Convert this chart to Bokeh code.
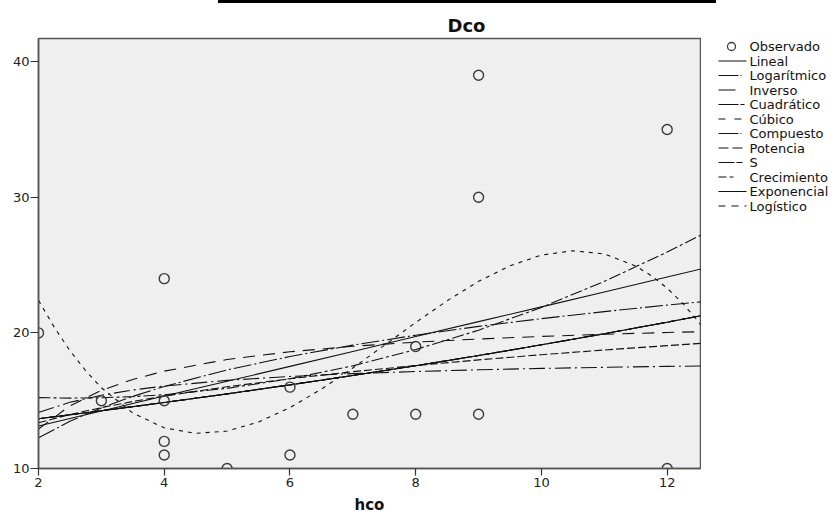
from bokeh.plotting import figure
from bokeh.layouts import row, column
from bokeh.models import Range1d, FixedTicker, Title, Div
from bokeh.core.properties import value
from bokeh.embed import file_html
from bokeh.resources import INLINE

# ---------------- data ----------------
title_text = "Dco"
x_title = "hco"
x_ticks = [2, 4, 6, 8, 10, 12]
y_ticks = [10, 20, 30, 40]

# observed points
hco = [2, 3, 4, 4, 4, 4, 5, 6, 6, 7, 8, 8, 9, 9, 9, 12, 12]
dco = [20, 15, 24, 15, 12, 11, 10, 16, 11, 14, 19, 14, 39, 30, 14, 35, 10]

# fitted curves
fit_x = [2, 2.5, 3, 3.5, 4, 5, 6, 7, 8, 9, 10, 11, 12, 12.54]
lineal_y = [13.14, 13.69, 14.24, 14.79, 15.34, 16.43, 17.53, 18.63, 19.73, 20.83, 21.92, 23.02, 24.12, 24.71]
log_y = [12.26, 13.48, 14.47, 15.32, 16.05, 17.27, 18.26, 19.10, 19.83, 20.48, 21.05, 21.57, 22.05, 22.29]
inv_y = [12.91, 14.62, 15.76, 16.57, 17.18, 18.04, 18.61, 19.01, 19.32, 19.55, 19.74, 19.90, 20.03, 20.09]
quad_y = [15.23, 15.19, 15.22, 15.30, 15.44, 15.91, 16.62, 17.57, 18.77, 20.20, 21.88, 23.80, 25.96, 27.23]
exp_y = [13.67, 13.96, 14.26, 14.56, 14.87, 15.50, 16.17, 16.86, 17.58, 18.33, 19.12, 19.94, 20.79, 21.27]
pow_y = [13.38, 13.98, 14.49, 14.94, 15.34, 16.03, 16.62, 17.14, 17.59, 18.01, 18.39, 18.74, 19.06, 19.23]
s_y = [14.13, 14.88, 15.40, 15.79, 16.08, 16.50, 16.79, 17.00, 17.15, 17.28, 17.38, 17.46, 17.53, 17.56]

cubic_x = [2, 2.25, 2.5, 2.75, 3, 3.5, 4, 4.5, 5, 5.5, 6, 6.5, 7, 7.5, 8, 8.5, 9,
           9.5, 10, 10.5, 11, 11.5, 11.75, 12, 12.25, 12.5, 12.54]
cubic_y = [22.40, 20.42, 18.69, 17.21, 15.96, 14.09, 13.00, 12.59, 12.76, 13.43, 14.49,
           15.85, 17.41, 19.08, 20.77, 22.37, 23.80, 24.95, 25.74, 26.06, 25.82, 24.93,
           24.21, 23.30, 22.17, 20.81, 20.58]

observed_name = "Observado"
series_names = ["Lineal", "Logarítmico", "Inverso", "Cuadrático", "Cúbico", "Compuesto",
                "Potencia", "S", "Crecimiento", "Exponencial", "Logístico"]

# ---------------- styles ----------------
FONT = "DejaVu Sans"
INK = "#111111"
series = [
    (fit_x, lineal_y, "solid"),
    (fit_x, log_y, "18 3 2 3"),
    (fit_x, inv_y, "12 8"),
    (fit_x, quad_y, "12 3 3 3"),
    (cubic_x, cubic_y, "4 5"),
    (fit_x, exp_y, "18 3 2 3"),
    (fit_x, pow_y, "8 3"),
    (fit_x, s_y, "16 4 2 4"),
    (fit_x, exp_y, "6 3"),
    (fit_x, exp_y, "solid"),
    (fit_x, exp_y, "6 5"),
]
legend_dashes = ["solid", "20 2 1 20", "3 0 14 30", "20 2 4 20", "7 9", "20 2 1 20",
                 "10 4", "16 2 6 20", "8 3 4 20", "solid", "7 6"]

TOP, BOTTOM, FRAME_H = 35, 48, 430

# ---------------- main chart ----------------
p = figure(width=701, height=TOP + FRAME_H + BOTTOM,
           x_range=Range1d(2, 12.53), y_range=Range1d(10, 41.71),
           output_backend="svg", toolbar_location=None,
           min_border_left=38, min_border_right=1, min_border_top=TOP, min_border_bottom=BOTTOM,
           background_fill_color="#efefef", border_fill_color="white",
           outline_line_color="#555555", outline_line_width=1.5)
p.grid.visible = False

for xs, ys, dash in series:
    p.line(xs, ys, line_color=INK, line_width=1.1, line_dash=dash)
p.scatter(hco, dco, marker="circle", size=10, fill_alpha=0,
          line_color="#3a3a3a", line_width=1.4)

for ax in (p.xaxis[0], p.yaxis[0]):
    ax.axis_line_color = "#555555"
    ax.axis_line_width = 1.5
    ax.major_tick_line_color = "#333333"
    ax.major_tick_line_width = 1.2
    ax.major_tick_in = 0
    ax.minor_tick_line_color = None
    ax.major_label_text_font = FONT
    ax.major_label_text_font_size = "13px"
    ax.major_label_text_color = "#222222"

p.xaxis.ticker = FixedTicker(ticks=x_ticks)
p.yaxis.ticker = FixedTicker(ticks=y_ticks)
p.xaxis.major_tick_out = 7
p.yaxis.major_tick_out = 8
p.xaxis.major_label_standoff = 2
p.yaxis.major_label_standoff = 1
p.xaxis.axis_label = x_title
p.xaxis.axis_label_text_font = FONT
p.xaxis.axis_label_text_font_style = "bold"
p.xaxis.axis_label_text_font_size = "15px"
p.xaxis.axis_label_text_color = INK
p.xaxis.axis_label_standoff = 6

p.title = Title(text=title_text, align="left", offset=409, standoff=5,
                text_font=FONT, text_font_style="bold", text_font_size="18px",
                text_color=INK)

# ---------------- legend panel ----------------
frame_top_px = 3 + TOP
lg = figure(width=134, height=TOP + FRAME_H + BOTTOM,
            x_range=Range1d(0, 134), y_range=Range1d(frame_top_px + FRAME_H, frame_top_px),
            output_backend="svg", toolbar_location=None,
            min_border_left=0, min_border_right=0, min_border_top=TOP, min_border_bottom=BOTTOM,
            outline_line_color=None, border_fill_color="white",
            background_fill_color="white")
lg.axis.visible = False
lg.grid.visible = False

ROW0, ROWH = 46, 14.5
rows_y = [ROW0 + ROWH * i for i in range(len(series_names) + 1)]
lg.scatter([30], [rows_y[0]], marker="circle", size=8, fill_alpha=0,
           line_color="#3a3a3a", line_width=1.3)
for i, dash in enumerate(legend_dashes):
    y = rows_y[i + 1]
    lg.line([17, 45], [y, y], line_color=INK, line_width=1.1, line_dash=dash)
lg.text(x=[48] * len(rows_y), y=rows_y, text=[observed_name] + series_names,
        text_font=value(FONT), text_font_size="13px", text_color=INK,
        text_baseline="middle", text_align="left")

# thin black bar at the very top of the picture
bar = Div(text="", width=498, height=3, margin=(0, 0, 0, 218),
          styles={"background-color": "#000000"})

layout = column(bar, row(p, lg, spacing=0), spacing=0)
open("out.html", "w").write(file_html(layout, INLINE))
